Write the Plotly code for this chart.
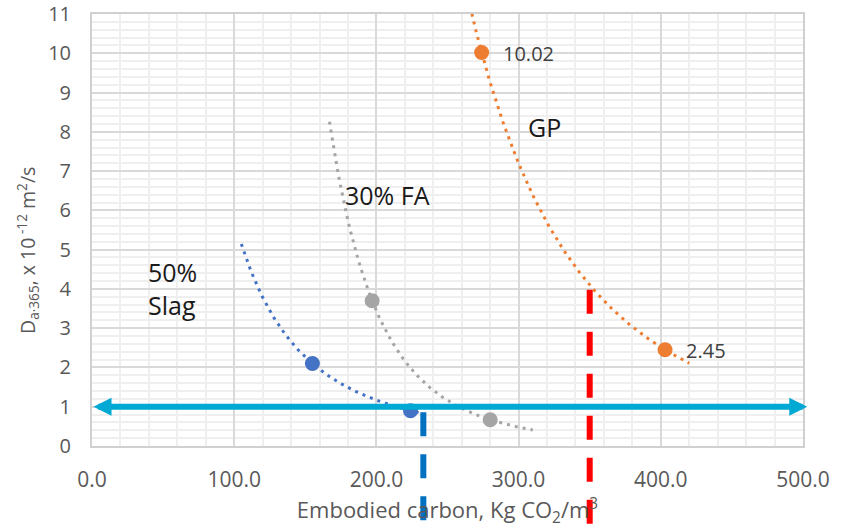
import numpy as np
import plotly.graph_objects as go

# ---- data ----
slag_x = [155, 224]
slag_y = [2.10, 0.90]
fa_x = [197, 280]
fa_y = [3.70, 0.67]
gp_x = [274, 403]
gp_y = [10.02, 2.45]

# trendline (power fit) extents, as drawn in the reference
slag_trend_range = [105, 230]
fa_trend_range = [167, 310]
gp_trend_range = [262, 420]

threshold_y = 1.0
slag_limit_x = 233
gp_limit_x = 350

x_ticks = [0, 100, 200, 300, 400, 500]
y_ticks = list(range(0, 12))

x_title = "Embodied carbon, Kg CO<sub>2</sub>/m<sup>3</sup>"
y_title = "D<sub>a·365</sub>, x 10<sup> -12</sup> m<sup>2</sup>/s"

C_SLAG = "#4472C4"
C_FA = "#A5A5A5"
C_GP = "#ED7D31"
FONT = "Open Sans"


def power_trend(xs, ys, xr, n=120):
    b, lna = np.polyfit(np.log(xs), np.log(ys), 1)
    xx = np.linspace(xr[0], xr[1], n)
    return xx, np.exp(lna) * xx ** b


fig = go.Figure()

for xs, ys, xr, col, name in [
    (slag_x, slag_y, slag_trend_range, C_SLAG, "50% Slag"),
    (fa_x, fa_y, fa_trend_range, C_FA, "30% FA"),
    (gp_x, gp_y, gp_trend_range, C_GP, "GP"),
]:
    tx, ty = power_trend(xs, ys, xr)
    fig.add_trace(go.Scatter(x=tx, y=ty, mode="lines",
                             line=dict(color=col, width=3, dash="3px,5px"),
                             hoverinfo="skip", showlegend=False))
    fig.add_trace(go.Scatter(x=xs, y=ys, mode="markers", name=name,
                             marker=dict(color=col, size=15),
                             showlegend=False))

# data labels for GP
for xv, yv in zip(gp_x, gp_y):
    fig.add_annotation(x=xv, y=yv, text=f"{yv:.2f}", showarrow=False,
                       xanchor="left", xshift=19, yshift=-1,
                       font=dict(family=FONT, size=20, color="#404040"))

# series labels
fig.add_annotation(x=38, y=4.0, text="50%<br>Slag", showarrow=False,
                   xanchor="left", align="left",
                   font=dict(family=FONT, size=25, color="#1a1a1a"))
fig.add_annotation(x=208, y=6.4, text="30% FA", showarrow=False,
                   font=dict(family=FONT, size=25, color="#1a1a1a"))
fig.add_annotation(x=318.5, y=8.12, text="GP", showarrow=False,
                   font=dict(family=FONT, size=25, color="#1a1a1a"))

# threshold double arrow
fig.add_annotation(x=503, y=threshold_y, ax=0, ay=threshold_y,
                   xref="x", yref="y", axref="x", ayref="y",
                   text="", showarrow=True, arrowside="end+start",
                   arrowhead=2, startarrowhead=2,
                   arrowsize=0.6, startarrowsize=0.6,
                   arrowwidth=6, arrowcolor="#00A8D4")

y_top = y_ticks[-1]
# vertical dashed limits
fig.add_shape(type="line", xref="x", yref="paper",
              x0=slag_limit_x, x1=slag_limit_x,
              y0=0.86 / y_top, y1=-0.3,
              line=dict(color="#0070C0", width=6, dash="24px,18px"))
fig.add_shape(type="line", xref="x", yref="paper",
              x0=gp_limit_x, x1=gp_limit_x,
              y0=3.98 / y_top, y1=-0.3,
              line=dict(color="#FF0000", width=6, dash="24px,18px"))

# y-axis title (placed as a rotated annotation for exact centring)
fig.add_annotation(xref="paper", yref="paper", x=0, y=0.5, xshift=-65, yshift=-21,
                   text=y_title, textangle=-90, showarrow=False,
                   xanchor="center", yanchor="middle",
                   font=dict(family=FONT, size=19.5, color="#595959"))

axis_common = dict(
    showgrid=True, gridcolor="#d9d9d9", gridwidth=2,
    showline=True, linecolor="#d0d0d0", linewidth=2, mirror=True,
    zeroline=False, ticks="", ticklabeloverflow="allow",
)

fig.update_xaxes(range=[0, 500], tickvals=x_ticks, tickformat=".1f",
                 minor=dict(dtick=20, showgrid=True, gridcolor="#efefef", gridwidth=2),
                 ticklabelstandoff=14,
                 tickfont=dict(family=FONT, size=21, color="#595959"),
                 title=dict(text=x_title, standoff=2,
                            font=dict(family=FONT, size=22, color="#595959")),
                 **axis_common)
fig.update_yaxes(range=[0, 11.0001], tickvals=y_ticks,
                 minor=dict(dtick=0.2, showgrid=True, gridcolor="#efefef", gridwidth=2),
                 ticklabelstandoff=15,
                 tickfont=dict(family=FONT, size=20, color="#595959"),
                 **axis_common)

fig.update_layout(
    width=845, height=531,
    margin=dict(l=92, r=42, t=14, b=85, autoexpand=False),
    plot_bgcolor="white", paper_bgcolor="white",
    showlegend=False,
)

fig.write_html("out.html")
